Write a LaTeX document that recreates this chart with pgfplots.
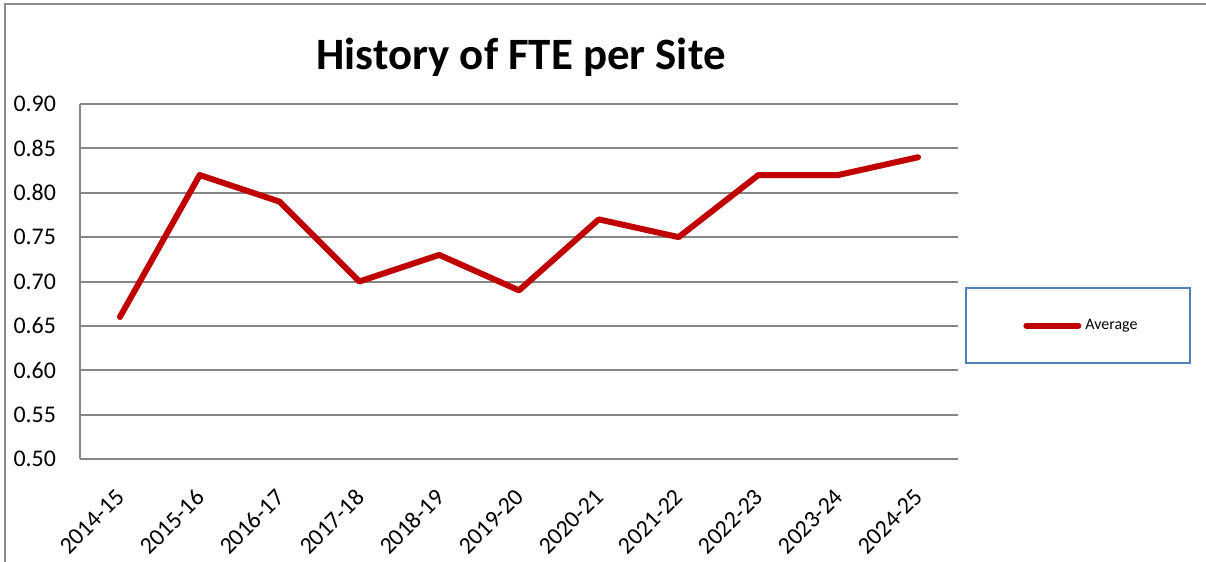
\documentclass[border=0pt]{standalone}
\usepackage{fontspec}
\setmainfont{Carlito}
\usepackage{pgfplots}
\pgfplotsset{compat=1.18}

\definecolor{gridgray}{RGB}{134,134,134}
\definecolor{framegray}{RGB}{140,140,140}
\definecolor{avgred}{RGB}{192,0,0}
\definecolor{legblue}{RGB}{79,129,189}

\begin{document}
\begin{tikzpicture}
  \useasboundingbox (0,0) rectangle (603bp,281bp);
  % outer chart frame (only top and left edges are in the crop)
  \draw[framegray, line width=1bp] (2.5bp,0) -- (2.5bp,279bp) -- (603bp,279bp);
  \node[anchor=base, font=\fontsize{22.5}{27}\selectfont\bfseries] at (260.5bp,246bp) {History of FTE per Site};

  \begin{axis}[
      at={(40bp,51.5bp)}, anchor=south west,
      scale only axis, width=439bp, height=177.5bp,
      xmin=-0.5, xmax=10.5, ymin=0.5, ymax=0.9,
      xtick=data,
      xticklabels={2014-15,2015-16,2016-17,2017-18,2018-19,2019-20,2020-21,2021-22,2022-23,2023-24,2024-25},
      ytick={0.5,0.55,...,0.9},
      yticklabel style={/pgf/number format/fixed, /pgf/number format/fixed zerofill,
        /pgf/number format/precision=2, anchor=east, xshift=-8.5bp},
      /pgf/number format/assume math mode=true,
      tick label style={font=\fontsize{12}{14}\selectfont},
      % shifts act in the rotated frame
      xticklabel style={rotate=45, anchor=north east, inner sep=0pt, xshift=-11.8bp, yshift=-8.2bp},
      major tick length=0pt,
      axis x line*=bottom, axis y line*=left,
      axis line style={gridgray, line width=1bp, -},
      ymajorgrids, grid style={gridgray, line width=1bp},
      legend style={at={(1.1417,0.376)}, anchor=center, draw=none, fill=none,
        font=\fontsize{8}{9.6}\selectfont, inner sep=0pt},
      legend image code/.code={\draw[#1] (0bp,0bp) -- (26bp,0bp);},
    ]
    \addplot[avgred, line width=3bp, line join=round, line cap=round] coordinates {
      (0,0.66) (1,0.82) (2,0.79) (3,0.70) (4,0.73) (5,0.69)
      (6,0.77) (7,0.75) (8,0.82) (9,0.82) (10,0.84)
    };
    \legend{Average}
  \end{axis}
  \draw[legblue, line width=0.6bp] (483bp,99.5bp) rectangle (595bp,137bp);
\end{tikzpicture}
\end{document}
